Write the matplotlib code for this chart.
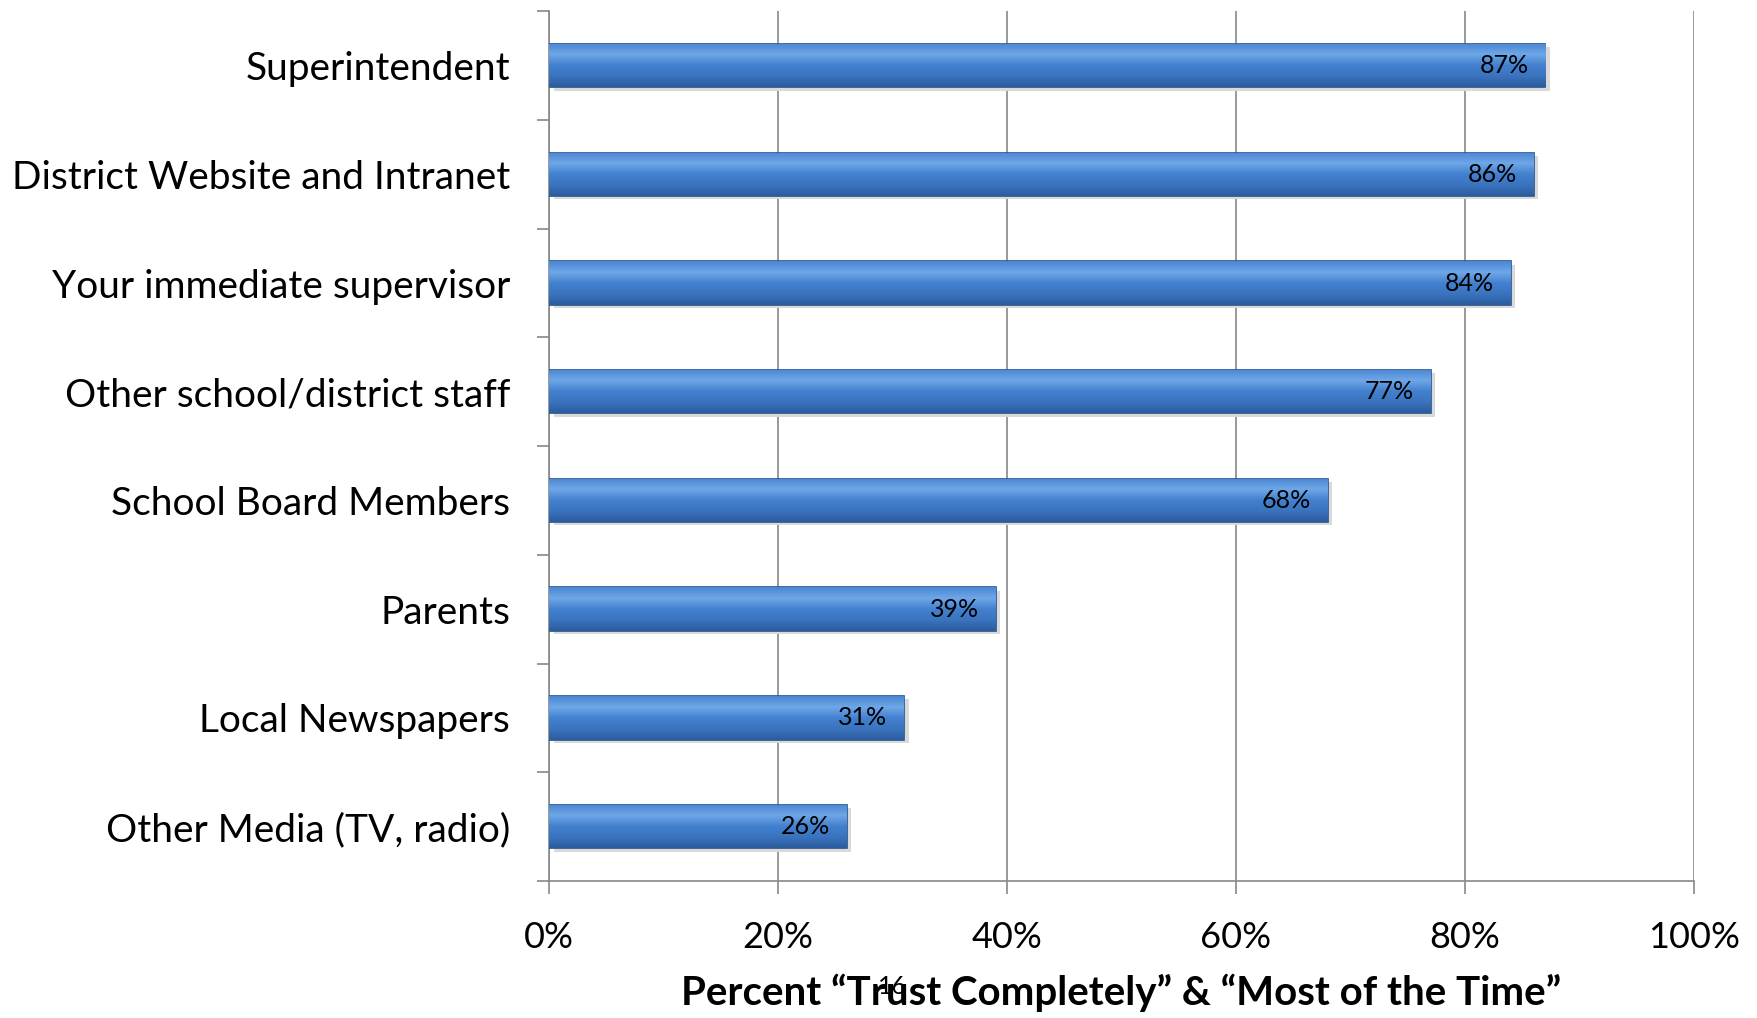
import numpy as np
import matplotlib.pyplot as plt
from matplotlib.colors import LinearSegmentedColormap

categories = ["Superintendent", "District Website and Intranet", "Your immediate supervisor",
              "Other school/district staff", "School Board Members", "Parents",
              "Local Newspapers", "Other Media (TV, radio)"]
values = [87, 86, 84, 77, 68, 39, 31, 26]
xticks = [0, 20, 40, 60, 80, 100]

plt.rcParams['font.family'] = ['Lato', 'DejaVu Sans']

fig = plt.figure(figsize=[17.58, 10.18], dpi=100)
ax = fig.add_axes([0.3123, 0.1346, 0.6513, 0.8544])

n = len(categories)
ypos = np.arange(n)[::-1]
bh = 0.4

# schatten
ax.barh(ypos - 0.03, values, height=bh, left=0.4, color='#d9d9d9', zorder=2)
bars = ax.barh(ypos, values, height=bh, color='#3F7AC6', edgecolor='#24528F', linewidth=1.2, zorder=3)

cmap = LinearSegmentedColormap.from_list('bev', ['#2C5C9E', '#3A74BF', '#4381CF', '#6FA7E8', '#4A86D2'])
grad = np.linspace(0, 1, 64).reshape(-1, 1)
for b in bars:
    x0, y0 = b.get_x(), b.get_y()
    im = ax.imshow(grad, cmap=cmap, aspect='auto', origin='lower',
                   extent=[x0, x0 + b.get_width(), y0, y0 + b.get_height()], zorder=3.5)
    im.set_clip_path(b)
for b, v in zip(bars, values):
    ax.annotate(f"{v}%", (v, b.get_y() + b.get_height() / 2), xytext=(-12, 0),
                textcoords='offset points', ha='right', va='center', fontsize=18, zorder=5)

ax.set_xlim(0, 100)
ax.set_ylim(-0.5, n - 0.5)
ax.set_xticks(xticks)
ax.set_xticklabels([f"{t}%" for t in xticks], fontsize=26)
ax.set_yticks(ypos)
ax.set_yticklabels(categories, fontsize=28)
ax.set_yticks(np.arange(-0.5, n, 1), minor=True)
ax.tick_params(axis='y', which='major', length=0, pad=28)
ax.tick_params(axis='y', which='minor', length=9, width=1.2, color='#888888')
ax.tick_params(axis='x', length=9, width=1.2, color='#888888', pad=20)
ax.grid(axis='x', color='#888888', linewidth=1.2, zorder=1)
ax.set_axisbelow(True)
for s in ['top', 'right']:
    ax.spines[s].set_visible(False)
for s in ['left', 'bottom']:
    ax.spines[s].set_color('#888888')
    ax.spines[s].set_linewidth(1.2)

ax.set_xlabel("Percent \u201cTrust Completely\u201d & \u201cMost of the Time\u201d",
              fontsize=29, fontweight='bold', labelpad=14)
fig.text(893 / 1758, 1 - 987 / 1018, "16", fontsize=18, ha='center', va='center')

fig.savefig("out.png", dpi=100)
